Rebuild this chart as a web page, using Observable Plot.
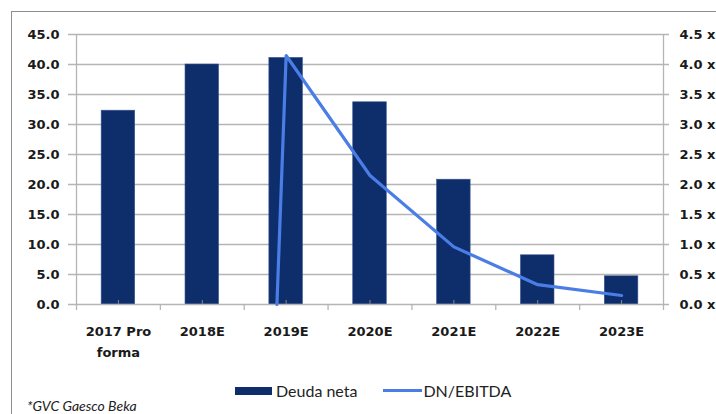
<!DOCTYPE html>
<html>
<head>
<meta charset="utf-8">
<script src="https://cdn.jsdelivr.net/npm/d3@7"></script>
<script src="https://cdn.jsdelivr.net/npm/@observablehq/plot@0.6"></script>
<style>
  html, body { margin: 0; padding: 0; background: #fff; }
  #wrap { position: relative; width: 716px; height: 414px; overflow: hidden; background: #fff; }
  #frame { position: absolute; left: 11px; top: 11px; width: 800px; height: 500px; border: 1.5px solid #8e8e8e; pointer-events: none; }
  #chart { position: absolute; left: 0; top: 0; }
  #legend { position: absolute; left: 235px; top: 381px; font-family: Lato, sans-serif; font-size: 16px; color: #222; display: flex; align-items: center; white-space: nowrap; }
  .sw-bar { display: inline-block; width: 37px; height: 8px; background: #0e2d6b; margin-right: 4px; }
  .sw-line { display: inline-block; width: 39px; height: 3px; background: #4a7ee6; margin-left: 26px; margin-right: 1px; }
  #caption { position: absolute; left: 27px; top: 397px; font-family: Lato, sans-serif; font-style: italic; font-size: 14px; color: #222; }
</style>
</head>
<body>
<div id="wrap">
  <div id="chart"></div>
  <div id="legend"><span class="sw-bar"></span>Deuda neta<span class="sw-line"></span>DN/EBITDA</div>
  <div id="caption">*GVC Gaesco Beka</div>
  <div id="frame"></div>
</div>
<script>
const categories = ["2017 Pro\nforma", "2018E", "2019E", "2020E", "2021E", "2022E", "2023E"];
const deudaNeta = [32.3, 40.0, 41.1, 33.7, 20.8, 8.2, 4.7];
// DN/EBITDA line: position (category index) and ratio values
const ratioPos = [1.89, 2, 3, 4, 5, 6];
const ratioVals = [0.0, 4.15, 2.15, 0.96, 0.33, 0.15];
const leftTicks = [0, 5, 10, 15, 20, 25, 30, 35, 40, 45];
const rightMax = 4.5, leftMax = 45;
const k = leftMax / rightMax;

const bars = deudaNeta.map((v, i) => ({i, v}));
const line = ratioPos.map((p, j) => ({p, r: ratioVals[j]}));
const centers = categories.map((c, i) => i);
const bounds = d3.range(categories.length + 1).map(i => i - 0.5);

const gridColor = "#b5b5b5";
const textColor = "#1a1a1a";
const font = "DejaVu Sans, sans-serif";

const plot = Plot.plot({
  width: 716,
  height: 370,
  marginTop: 34,
  marginBottom: 66,
  marginLeft: 76,
  marginRight: 53,
  style: {fontFamily: font, fontSize: "13px", fontWeight: "bold", background: "transparent", overflow: "visible"},
  x: {type: "linear", domain: [-0.5, categories.length - 0.5]},
  y: {domain: [0, leftMax]},
  marks: [
    Plot.ruleY(leftTicks.filter(t => t > 0), {stroke: gridColor, strokeWidth: 1.3, insetLeft: -8, insetRight: -6}),
    Plot.rect(bars, {x1: d => d.i - 0.2, x2: d => d.i + 0.2, y1: 0, y2: "v", fill: "#0e2d6b", stroke: "#3a5590", strokeWidth: 0.6}),
    Plot.ruleY([0], {stroke: gridColor, strokeWidth: 1.3, insetLeft: -8, insetRight: -6}),
    Plot.ruleX([-0.5], {stroke: gridColor, strokeWidth: 1.3}),
    Plot.ruleX([categories.length - 0.5], {stroke: gridColor, strokeWidth: 1.3}),
    Plot.ruleX(bounds, {x: d => d, y1: 0, y2: 0, insetBottom: -6, stroke: gridColor, strokeWidth: 1.3}),
    Plot.ruleX(centers, {x: d => d, y1: 0, y2: 0, insetTop: -4, stroke: "#8a8a8a", strokeWidth: 1}),
    Plot.axisY({ticks: leftTicks, tickFormat: d => d.toFixed(1), tickSize: 0, tickPadding: 17, fill: textColor, anchor: "left", label: null}),
    Plot.axisY({ticks: leftTicks, tickFormat: d => (d / k).toFixed(1) + " x", tickSize: 0, tickPadding: 16, fill: textColor, anchor: "right", label: null, textAnchor: "start"}),
    Plot.axisX({ticks: centers, tickFormat: i => categories[i], tickSize: 0, tickPadding: 17, fill: textColor, lineHeight: 1.6, label: null}),
    Plot.line(line, {x: "p", y: d => d.r * k, stroke: "#4a7ee6", strokeWidth: 3.2, strokeLinejoin: "round", strokeLinecap: "round"})
  ]
});
document.getElementById("chart").appendChild(plot);
</script>
</body>
</html>
